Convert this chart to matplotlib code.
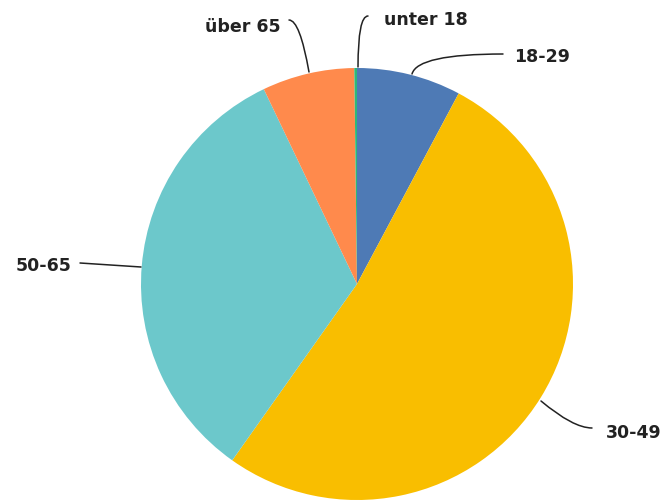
import matplotlib.pyplot as plt

# Altersgruppen, im Uhrzeigersinn ab 12 Uhr
labels = ["18-29", "30-49", "50-65", "über 65", "unter 18"]
anteile = [7.8, 52.0, 33.1, 6.9, 0.2]
farben = ["#4e7ab5", "#f9be00", "#6cc8cb", "#ff8a4c", "#2db87a"]

W, H = 669, 502
fig = plt.figure(figsize=(W / 100, H / 100), dpi=100)
ax = fig.add_axes([0, 0, 1, 1])

cx, cy, r = 357, 502 - 285, 216
ax.pie(anteile, colors=farben, startangle=90, counterclock=False,
       center=(cx, cy), radius=r, frame=True,
       wedgeprops=dict(linewidth=0))

# Beschriftungen: Textposition, Punkt am Kreis, Ausrichtung, Linienform, Start der Linie
beschriftung = {
    "18-29": ((514, 445), (412, 427), "left", "angle3,angleA=0,angleB=75", (503, 447)),
    "unter 18": ((384, 482), (358, 434), "left", "angle3,angleA=0,angleB=90", (368, 485)),
    "über 65": ((281, 475), (309, 429), "right", "angle3,angleA=0,angleB=100", (289, 481)),
    "50-65": ((71, 236), (141, 234), "right", "arc3,rad=0", (80, 238)),
    "30-49": ((606, 69), (541, 100), "left", "angle3,angleA=0,angleB=-40", (592, 73)),
}
for lab in labels:
    txt, pt, ha, cs, start = beschriftung[lab]
    ax.text(txt[0], txt[1], lab, ha=ha, va="center",
            fontsize=12.5, fontweight="bold", color="#222222",
            family=["DejaVu Sans"])
    ax.annotate("", xy=pt, xytext=start,
                arrowprops=dict(arrowstyle="-", color="#222222", lw=1.1,
                                connectionstyle=cs, shrinkA=0, shrinkB=0))

ax.set_xlim(0, W)
ax.set_ylim(0, H)
ax.set_aspect("equal")
ax.axis("off")

fig.savefig("out.png", dpi=100)
